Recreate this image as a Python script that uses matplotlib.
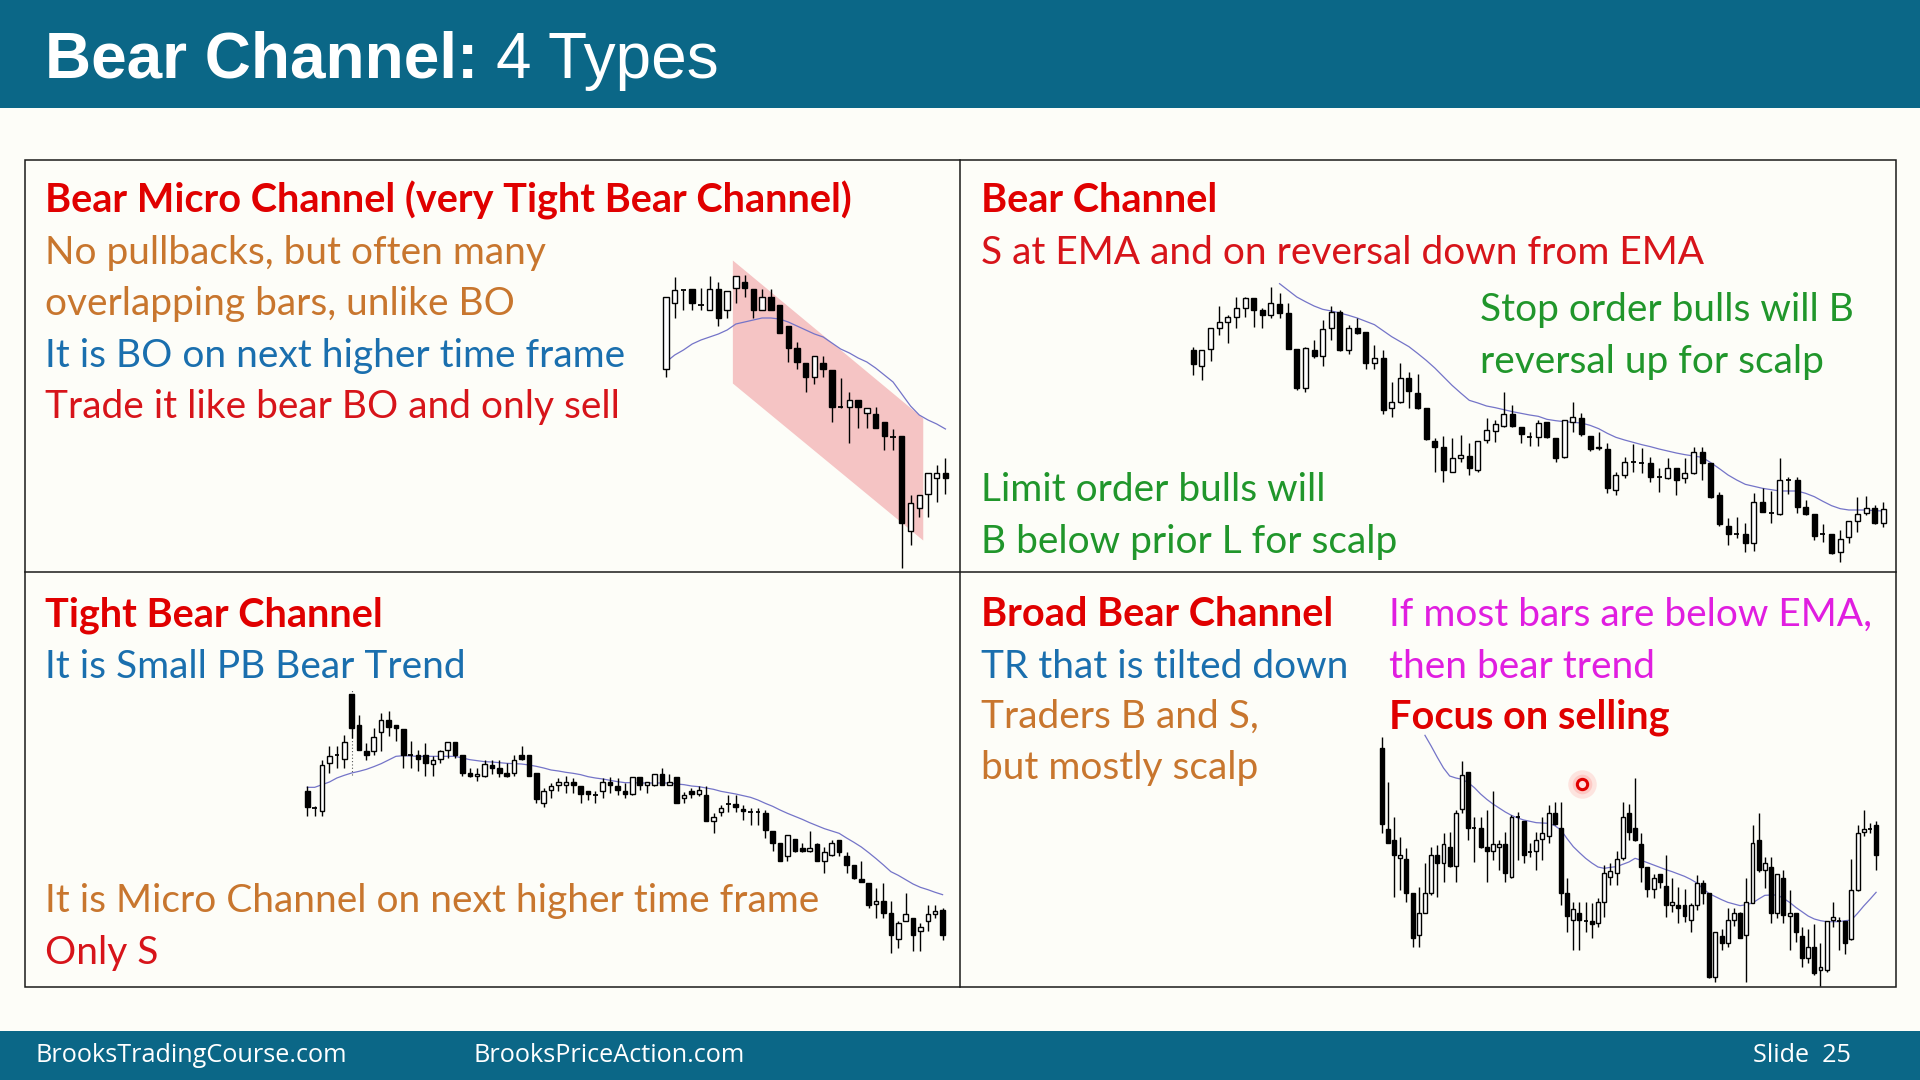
import numpy as np
import matplotlib
matplotlib.use("Agg")
import matplotlib.pyplot as plt
from matplotlib.patches import Rectangle

plt.rcParams['font.family'] = ['Lato', 'DejaVu Sans']

W, H = 1920, 1080
HEADER = '#0b6787'
BG = '#fdfdf8'
RED_B = '#e00000'
RED = '#d7141a'
ORANGE = '#c8762e'
BLUE = '#1a6fae'
GREEN = '#20962b'
MAGENTA = '#e01ee0'
EMA_COLOR = '#7474c8'

# ---- chart 1: bear micro channel ----
micro_open = [711, 777, 790, 791, 775, 770, 791, 770, 792, 798, 791, 770, 783, 775, 754, 732, 717,
              703, 717, 710, 673, 673, 680, 667, 666, 658, 643, 644, 549, 572, 586, 602, 607]
micro_high = [783, 803, 790, 791, 792, 804, 798, 789, 804, 805, 791, 791, 791, 775, 754, 738, 717,
              724, 724, 710, 702, 688, 680, 672, 673, 658, 651, 644, 585, 585, 607, 615, 622]
micro_low = [703, 762, 770, 770, 770, 770, 754, 762, 777, 783, 762, 770, 770, 747, 718, 711, 688,
             696, 703, 658, 672, 637, 652, 652, 652, 630, 630, 512, 535, 563, 563, 578, 586]
micro_close = [783, 790, 790, 777, 775, 791, 762, 789, 804, 792, 770, 783, 770, 747, 732, 718, 703,
               724, 711, 673, 673, 680, 673, 672, 652, 644, 643, 557, 577, 585, 607, 607, 602]
micro_ema = [718, 725, 730, 736, 740, 743, 746, 750, 756, 758, 760, 762, 762, 761, 758, 754, 750,
             746, 743, 737, 731, 727, 722, 718, 712, 705, 698, 686, 674, 665, 660, 656, 651]
channel_x = [7.6, 29.4]
channel_top = [820, 662]
channel_bot = [697, 540]

# ---- chart 2: bear channel ----
bc_open = [775, 728, 778, 842, 860, 875, 900, 932, 895, 880, 913, 885, 778, 662, 775, 757, 842, 890, 775, 840,
           828, 735, 750, 600, 618, 690, 647, 602, 503, 485, 410, 450, 458, 415, 505, 533, 547, 582, 545, 515,
           515, 560, 512, 455, 560, 572, 518, 480, 478, 355, 400, 438, 435, 435, 395, 392, 422, 392, 405, 470,
           435, 340, 248, 222, 222, 195, 320, 285, 282, 385, 385, 305, 282, 222, 222, 170, 215, 262, 285, 302,
           255]
bc_high = [785, 775, 842, 908, 880, 935, 935, 932, 900, 965, 945, 915, 778, 785, 805, 865, 908, 895, 850, 872,
           828, 790, 775, 680, 735, 710, 702, 602, 510, 518, 510, 520, 495, 503, 572, 565, 648, 610, 545, 530,
           565, 560, 512, 565, 618, 585, 518, 530, 495, 410, 455, 492, 480, 455, 420, 452, 422, 450, 485, 485,
           435, 350, 270, 275, 255, 345, 360, 352, 450, 395, 395, 325, 282, 252, 222, 235, 262, 335, 338, 310,
           320]
bc_low = [700, 685, 742, 820, 795, 842, 875, 845, 840, 870, 870, 778, 655, 650, 750, 728, 805, 772, 762, 822,
          718, 718, 582, 575, 615, 600, 598, 505, 410, 380, 408, 440, 400, 408, 495, 500, 545, 545, 495, 488,
          488, 512, 440, 452, 530, 518, 473, 475, 345, 340, 392, 410, 405, 380, 350, 388, 340, 375, 402, 385,
          332, 248, 190, 210, 170, 172, 288, 255, 280, 342, 285, 280, 205, 200, 162, 140, 195, 230, 280, 252,
          245]
bc_close = [732, 775, 842, 860, 875, 900, 930, 895, 880, 915, 885, 778, 660, 780, 757, 837, 890, 775, 842, 825,
            735, 750, 595, 618, 692, 652, 602, 507, 485, 415, 450, 460, 420, 503, 535, 552, 582, 548, 522, 515,
            557, 515, 450, 565, 575, 522, 478, 485, 362, 400, 440, 438, 435, 395, 395, 420, 385, 405, 470, 435,
            335, 252, 222, 222, 195, 318, 290, 285, 385, 385, 305, 282, 218, 222, 165, 208, 262, 282, 302, 255,
            297]
bc_ema_start = 10
bc_ema = [974, 954, 934, 920, 907, 897, 892, 886, 879, 871, 861, 851, 833, 815, 800, 785, 765, 744, 721, 695,
          669, 646, 624, 616, 607, 602, 596, 590, 585, 580, 576, 567, 563, 560, 558, 556, 549, 539, 525, 513,
          505, 498, 491, 485, 478, 472, 466, 461, 457, 453, 437, 419, 400, 385, 372, 366, 360, 356, 352, 352,
          352, 345, 335, 321, 308, 299, 295, 295, 295, 293, 292]

# ---- chart 3: tight bear channel ----
tight_open = [692, 640, 630, 775, 800, 788, 982, 890, 812, 812, 867, 903, 890, 878, 798, 798, 798, 772, 788, 813,
              837, 798, 745, 735, 735, 770, 760, 745, 745, 798, 800, 745, 655, 695, 708, 708, 717, 705, 690, 680,
              692, 717, 705, 692, 682, 732, 708, 708, 742, 710, 732, 670, 692, 682, 678, 602, 628, 652, 652, 638,
              627, 627, 625, 572, 535, 495, 547, 520, 510, 532, 482, 500, 545, 495, 470, 428, 415, 352, 362, 325,
              248, 300, 310, 272, 300, 322, 335]
tight_high = [705, 645, 785, 825, 825, 860, 982, 920, 835, 880, 925, 930, 890, 878, 840, 815, 835, 795, 815, 837,
              837, 798, 760, 760, 785, 785, 785, 775, 800, 825, 800, 745, 700, 715, 730, 735, 730, 705, 690, 692,
              730, 732, 730, 715, 732, 732, 717, 742, 760, 742, 732, 688, 700, 705, 705, 625, 650, 678, 678, 650,
              640, 640, 635, 572, 535, 560, 547, 535, 572, 535, 522, 545, 545, 508, 470, 480, 415, 400, 415, 360,
              300, 385, 310, 295, 350, 350, 340]
tight_low = [615, 615, 615, 745, 760, 760, 850, 815, 785, 800, 810, 855, 842, 760, 760, 750, 735, 735, 775, 790,
             790, 735, 732, 720, 732, 742, 732, 732, 735, 785, 735, 655, 642, 670, 690, 685, 685, 655, 665, 655,
             670, 685, 680, 670, 680, 695, 685, 705, 708, 708, 655, 655, 670, 675, 602, 565, 615, 628, 628, 605,
             590, 590, 550, 510, 480, 482, 508, 508, 508, 480, 445, 497, 495, 445, 428, 418, 340, 310, 310, 205,
             220, 300, 210, 210, 272, 310, 245]
tight_close = [642, 640, 770, 795, 800, 838, 880, 815, 800, 852, 903, 882, 880, 800, 798, 788, 775, 785, 810, 837,
               800, 745, 735, 743, 772, 760, 745, 735, 785, 788, 735, 668, 692, 705, 717, 717, 708, 682, 682, 680,
               718, 708, 695, 682, 732, 708, 717, 742, 708, 718, 655, 680, 682, 695, 602, 612, 640, 652, 642, 630,
               627, 627, 575, 535, 482, 560, 510, 510, 520, 482, 508, 535, 508, 470, 430, 418, 350, 362, 325, 260,
               295, 322, 260, 282, 322, 332, 260]
tight_ema = [702, 702, 710, 718, 730, 738, 745, 750, 756, 764, 773, 784, 795, 797, 796, 795, 795, 795, 795, 795,
             795, 790, 785, 782, 779, 778, 776, 774, 773, 772, 769, 765, 760, 754, 751, 747, 744, 740, 734, 730,
             727, 723, 719, 716, 716, 715, 715, 715, 715, 715, 712, 710, 706, 704, 700, 696, 690, 686, 682, 677,
             672, 664, 654, 645, 634, 624, 615, 606, 596, 587, 578, 571, 564, 550, 537, 523, 506, 488, 469, 449,
             438, 425, 412, 402, 395, 387, 380]
tight_marker_bar = 6

# ---- chart 4: broad bear channel ----
broad_open = [945, 702, 670, 615, 612, 510, 385, 452, 510, 625, 602, 648, 592, 762, 875, 705, 705, 648, 638, 648,
              658, 558, 740, 728, 635, 638, 672, 682, 750, 705, 510, 430, 452, 428, 428, 420, 485, 558, 570, 615,
              750, 705, 658, 590, 522, 568, 532, 475, 475, 475, 430, 475, 542, 510, 258, 382, 362, 430, 452, 385,
              482, 670, 580, 590, 452, 555, 442, 452, 382, 315, 348, 280, 280, 430, 428, 428, 372, 520, 695, 703,
              715]
broad_high = [980, 845, 738, 680, 645, 510, 530, 600, 648, 655, 690, 695, 760, 908, 875, 738, 738, 760, 818, 670,
              695, 745, 755, 728, 662, 695, 738, 775, 785, 785, 555, 485, 485, 485, 480, 495, 595, 602, 638, 785,
              778, 855, 692, 590, 568, 568, 625, 555, 530, 522, 482, 565, 550, 510, 395, 402, 465, 465, 455, 555,
              715, 750, 620, 620, 568, 580, 520, 452, 410, 402, 418, 360, 428, 485, 440, 428, 612, 715, 760, 720,
              728]
broad_low = [690, 660, 500, 520, 485, 350, 350, 450, 505, 500, 545, 590, 545, 752, 670, 605, 645, 545, 610, 580,
             545, 555, 610, 602, 620, 580, 610, 660, 715, 475, 395, 340, 340, 395, 375, 410, 440, 535, 535, 610,
             670, 668, 545, 500, 495, 525, 440, 455, 420, 425, 395, 460, 478, 255, 245, 340, 350, 412, 375, 245,
             480, 575, 525, 420, 435, 420, 340, 365, 290, 300, 265, 232, 275, 410, 340, 328, 370, 518, 682, 690,
             580]
broad_close = [718, 662, 625, 625, 510, 375, 452, 510, 625, 602, 658, 592, 750, 865, 705, 705, 650, 638, 658, 658,
               570, 738, 740, 625, 635, 670, 692, 750, 718, 510, 442, 462, 430, 428, 418, 485, 570, 578, 612, 738,
               695, 670, 590, 522, 555, 545, 475, 485, 465, 442, 475, 542, 510, 258, 395, 360, 430, 452, 375, 485,
               660, 580, 600, 452, 568, 445, 452, 395, 315, 348, 270, 290, 428, 438, 428, 362, 520, 692, 703, 703,
               625]
broad_ema_start = 7
broad_ema = [984, 952, 918, 886, 862, 856, 852, 842, 827, 808, 792, 778, 766, 754, 744, 736, 730, 726, 722, 721,
             720, 713, 700, 674, 650, 632, 615, 601, 589, 585, 588, 590, 597, 604, 615, 609, 602, 595, 588, 581,
             575, 568, 561, 552, 541, 524, 509, 500, 491, 483, 478, 473, 476, 481, 493, 504, 505, 505, 495, 483,
             468, 455, 442, 433, 428, 425, 425, 425, 428, 430, 450, 472, 492, 513]

cursor_xy = (1582, 784)

fig = plt.figure(figsize=(19.2, 10.8), dpi=100, facecolor=BG)
bg = fig.add_axes([0, 0, 1, 1])
bg.set_xlim(0, W)
bg.set_ylim(H, 0)
bg.axis('off')

# header / footer bands
bg.add_patch(Rectangle((0, 0), W, 108, color=HEADER, lw=0))
bg.add_patch(Rectangle((0, 1031), W, 49, color=HEADER, lw=0))
bg.text(45, 78, 'Bear Channel:', color='white', fontsize=46, fontweight='bold',
        family=['Liberation Sans', 'DejaVu Sans'], va='baseline')
bg.text(496, 78, '4 Types', color='white', fontsize=46,
        family=['Liberation Sans', 'DejaVu Sans'], va='baseline')
foot = dict(color='white', fontsize=18.2, family=['Open Sans', 'DejaVu Sans'], va='baseline')
bg.text(35, 1062, 'BrooksTradingCourse.com', **foot)
bg.text(474, 1062, 'BrooksPriceAction.com', **foot)
bg.text(1851, 1062, 'Slide  25', ha='right', **foot)

# panel grid
bg.add_patch(Rectangle((24.5, 160), 1871, 827, fill=False, ec='#1a1a1a', lw=1.1))
bg.plot([960, 960], [160, 987], color='#1a1a1a', lw=1.1)
bg.plot([24.5, 1895.5], [572, 572], color='#1a1a1a', lw=1.1)

FS = 28


def line(x, y, s, color, bold=False):
    bg.text(x, y + 1, s, color=color, fontsize=28.5 if bold else FS,
            fontweight='bold' if bold else 'normal', va='baseline')


line(45, 211, 'Bear Micro Channel (very Tight Bear Channel)', RED_B, True)
line(45, 263, 'No pullbacks, but often many', ORANGE)
line(45, 314, 'overlapping bars, unlike BO', ORANGE)
line(45, 366, 'It is BO on next higher time frame', BLUE)
line(45, 417, 'Trade it like bear BO and only sell', RED)

line(981, 211, 'Bear Channel', RED_B, True)
line(981, 263, 'S at EMA and on reversal down from EMA', RED)
line(1480, 320, 'Stop order bulls will B', GREEN)
line(1480, 372, 'reversal up for scalp', GREEN)
line(981, 500, 'Limit order bulls will', GREEN)
line(981, 552, 'B below prior L for scalp', GREEN)

line(45, 625, 'Tight Bear Channel', RED_B, True)
line(45, 677, 'It is Small PB Bear Trend', BLUE)
line(45, 911, 'It is Micro Channel on next higher time frame', ORANGE)
line(45, 963, 'Only S', RED)

line(981, 625, 'Broad Bear Channel', RED_B, True)
line(981, 677, 'TR that is tilted down', BLUE)
line(981, 727, 'Traders B and S,', ORANGE)
line(981, 778, 'but mostly scalp', ORANGE)
line(1389, 625, 'If most bars are below EMA,', MAGENTA)
line(1389, 677, 'then bear trend', MAGENTA)
line(1389, 727, 'Focus on selling', RED_B, True)


def chart_axes(x_first, dx, n, y0, k, plo, phi):
    # y pixel of a price p is y0 - p*k
    left = x_first - dx
    right = x_first + n * dx
    top = y0 - phi * k
    bottom = y0 - plo * k
    ax = fig.add_axes([left / W, 1 - bottom / H, (right - left) / W, (bottom - top) / H])
    ax.set_xlim(-1, n)
    ax.set_ylim(plo, phi)
    ax.axis('off')
    ax.patch.set_alpha(0)
    return ax


def candles(ax, o, h, l, c, width=0.62):
    o, h, l, c = (np.asarray(v, dtype=float) for v in (o, h, l, c))
    x = np.arange(len(o))
    ax.vlines(x, l, h, color='black', lw=1.0, zorder=2)
    up = c > o
    dn = c < o
    flat = c == o
    ax.bar(x[up], (c - o)[up], bottom=o[up], width=width, facecolor='white',
           edgecolor='black', lw=1.0, zorder=3)
    ax.bar(x[dn], (o - c)[dn], bottom=c[dn], width=width, facecolor='black',
           edgecolor='black', lw=1.0, zorder=3)
    ax.hlines(o[flat], x[flat] - width / 2, x[flat] + width / 2, color='black', lw=1.3, zorder=3)


# chart 1
ax1 = chart_axes(666, 8.733, len(micro_open), 1080, 1, 500, 830)
ax1.fill_between(channel_x, channel_top, channel_bot, color='#f5c4c4', lw=0, zorder=0)
ax1.plot(np.arange(len(micro_ema)), micro_ema, color=EMA_COLOR, lw=0.9, zorder=1)
candles(ax1, micro_open, micro_high, micro_low, micro_close)

# chart 2
ax2 = chart_axes(1193.3, 8.625, len(bc_open), 608.33, 1 / 3, 120, 1000)
ax2.plot(np.arange(bc_ema_start, bc_ema_start + len(bc_ema)), bc_ema, color=EMA_COLOR, lw=0.9, zorder=1)
candles(ax2, bc_open, bc_high, bc_low, bc_close, width=0.58)

# chart 3
ax3 = chart_axes(307.3, 7.387, len(tight_open), 1021.33, 1 / 3, 180, 1000)
ax3.vlines(tight_marker_bar, 740, 995, colors='#555555', linestyles=(0, (1, 2)), lw=0.8, zorder=1)
ax3.plot(np.arange(len(tight_ema)), tight_ema, color=EMA_COLOR, lw=0.9, zorder=1)
candles(ax3, tight_open, tight_high, tight_low, tight_close)

# chart 4
ax4 = chart_axes(1381.7, 6.18, len(broad_open), 1063.33, 1 / 3, 200, 1000)
ax4.plot(np.arange(broad_ema_start, broad_ema_start + len(broad_ema)), broad_ema,
         color=EMA_COLOR, lw=0.9, zorder=1)
candles(ax4, broad_open, broad_high, broad_low, broad_close, width=0.64)

# red pointer dot
bg.scatter([cursor_xy[0]], [cursor_xy[1]], s=420, color='#ff3030', alpha=0.12, lw=0, zorder=5)
bg.scatter([cursor_xy[0]], [cursor_xy[1]], s=200, color='#ff3030', alpha=0.15, lw=0, zorder=5)
bg.scatter([cursor_xy[0]], [cursor_xy[1]], s=55, facecolor='#ffe0e0', edgecolor='#e00000', lw=2.2, zorder=6)

fig.savefig('out.png', dpi=100, facecolor=BG)
